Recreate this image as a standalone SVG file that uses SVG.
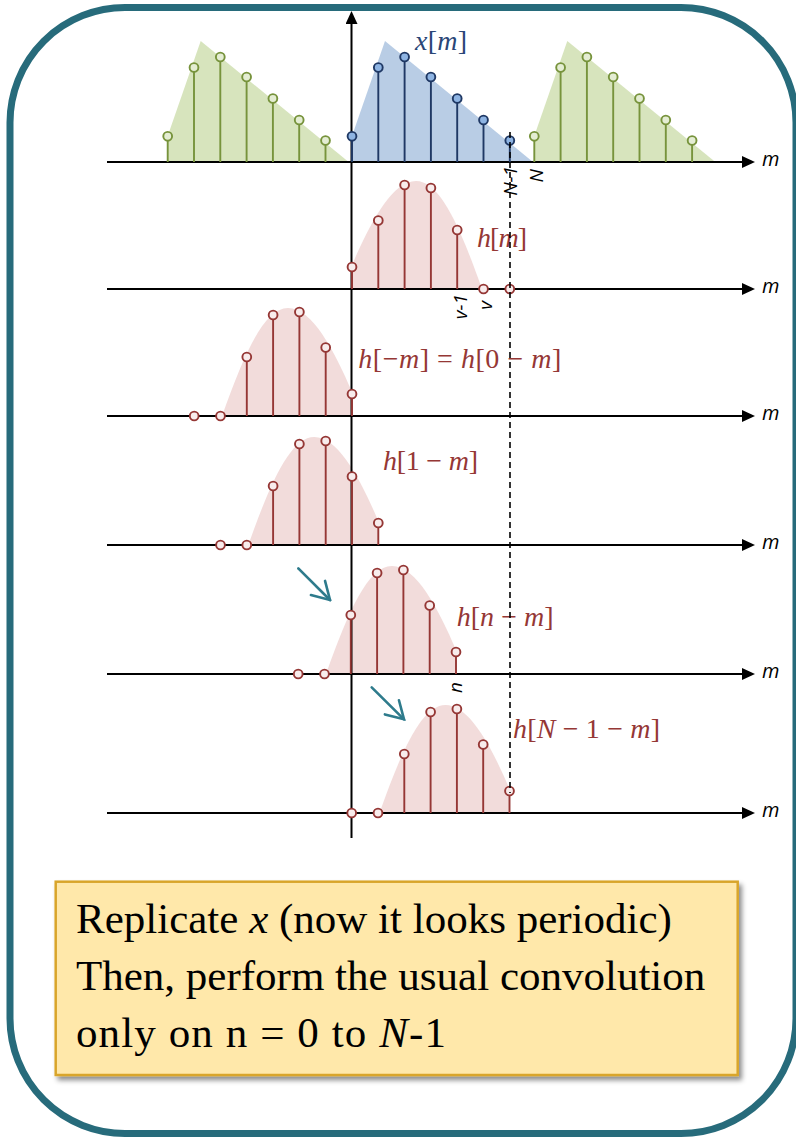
<svg xmlns="http://www.w3.org/2000/svg" width="796" height="1137" viewBox="0 0 796 1137">
<defs>
<style>
.axis{stroke:#000;stroke-width:2;fill:none}
.dash{stroke:#000;stroke-width:1.6;stroke-dasharray:6 4;fill:none}
.gfill{fill:#d7e4bd}
.bfill{fill:#b9cde5}
.rfill{fill:#f2dcdb}
.green{stroke:#77933c;fill:#e4edd3}
.blueseq{stroke:#1f3864;fill:#8eb4e3}
.redseq{stroke:#953735;fill:#f8ecec}
.lbl{font-family:"Open Sans","Liberation Sans",sans-serif;font-style:italic;font-size:19px;fill:#000}
.axl{font-family:"Open Sans","Liberation Sans",sans-serif;font-style:italic;font-size:20px;fill:#000}
.math{font-family:"Liberation Serif","DejaVu Serif",serif;font-size:28px}
.it{font-style:italic}
.red{fill:#953735}
.blue{fill:#2a4677}
.teal{stroke:#2e7b8c;stroke-width:2.6;fill:none;stroke-linecap:round}
.box{fill:#ffe8aa;stroke:#d9a52b;stroke-width:2.5}
.boxt{font-family:"Liberation Serif","Times New Roman",serif;font-size:43px;fill:#000}
</style>
<marker id="ah" viewBox="0 0 13 12" refX="1" refY="6" markerWidth="13" markerHeight="12" markerUnits="userSpaceOnUse" orient="auto"><path d="M0,0 L13,6 L0,12 Z" fill="#000"/></marker>
<marker id="ov" viewBox="-19 -12 21 24" refX="0" refY="0" markerWidth="21" markerHeight="24" markerUnits="userSpaceOnUse" orient="auto"><path d="M-17,-10 L0,0 L-17,10" fill="none" stroke="#2e7b8c" stroke-width="2.6" stroke-linecap="round"/></marker>
<filter id="sh" x="-5%" y="-5%" width="115%" height="125%"><feDropShadow dx="3" dy="4" stdDeviation="2.5" flood-color="#000" flood-opacity="0.45"/></filter>
<polygon id="tri" points="0,0 0,-26 33,-121 181,0"/>
<path id="bump" d="M0,0 V-24 C18,-66 40,-108 64,-108 C88,-108 108,-62 130,0 Z"/>
<g id="xst" stroke-width="1.9">
<line x1="0" y1="0" x2="0" y2="-25.7"/>
<line x1="26.3" y1="0" x2="26.3" y2="-94.5"/>
<line x1="52.6" y1="0" x2="52.6" y2="-105"/>
<line x1="78.9" y1="0" x2="78.9" y2="-85"/>
<line x1="105.2" y1="0" x2="105.2" y2="-63.5"/>
<line x1="131.5" y1="0" x2="131.5" y2="-42"/>
<line x1="157.8" y1="0" x2="157.8" y2="-21.5"/>
<circle cx="0" cy="-25.7" r="4.4"/>
<circle cx="26.3" cy="-94.5" r="4.4"/>
<circle cx="52.6" cy="-105" r="4.4"/>
<circle cx="78.9" cy="-85" r="4.4"/>
<circle cx="105.2" cy="-63.5" r="4.4"/>
<circle cx="131.5" cy="-42" r="4.4"/>
<circle cx="157.8" cy="-21.5" r="4.4"/>
</g>
<g id="hst" stroke-width="1.9">
<line x1="0" y1="0" x2="0" y2="-22"/>
<line x1="26.3" y1="0" x2="26.3" y2="-68.5"/>
<line x1="52.6" y1="0" x2="52.6" y2="-104"/>
<line x1="78.9" y1="0" x2="78.9" y2="-101"/>
<line x1="105.2" y1="0" x2="105.2" y2="-59"/>
<circle cx="0" cy="-22" r="4.4"/>
<circle cx="26.3" cy="-68.5" r="4.4"/>
<circle cx="52.6" cy="-104" r="4.4"/>
<circle cx="78.9" cy="-101" r="4.4"/>
<circle cx="105.2" cy="-59" r="4.4"/>
<circle cx="131.5" cy="0" r="4.4"/>
<circle cx="157.8" cy="0" r="4.4"/>
</g>
</defs>
<rect width="796" height="1137" fill="#fff"/>
<g id="frame"><rect x="10" y="7.5" width="786" height="1126" rx="115" fill="none" stroke="#276b7b" stroke-width="7"/></g>
<g id="fills">
<use href="#tri" class="gfill" transform="translate(167.7,162)"/>
<use href="#tri" class="bfill" transform="translate(352,162)"/>
<use href="#tri" class="gfill" transform="translate(534.3,162)"/>
<use href="#bump" class="rfill" transform="translate(352,289)"/>
<use href="#bump" class="rfill" transform="translate(352,416) scale(-1,1)"/>
<use href="#bump" class="rfill" transform="translate(378.3,545) scale(-1,1)"/>
<use href="#bump" class="rfill" transform="translate(456,674) scale(-1,1)"/>
<use href="#bump" class="rfill" transform="translate(509.5,813) scale(-1,1)"/>
</g>
<g id="axes">
<line class="axis" x1="107" y1="162" x2="743" y2="162" marker-end="url(#ah)"/>
<line class="axis" x1="107" y1="289" x2="743" y2="289" marker-end="url(#ah)"/>
<line class="axis" x1="107" y1="416" x2="743" y2="416" marker-end="url(#ah)"/>
<line class="axis" x1="107" y1="545" x2="743" y2="545" marker-end="url(#ah)"/>
<line class="axis" x1="107" y1="674" x2="743" y2="674" marker-end="url(#ah)"/>
<line class="axis" x1="107" y1="813" x2="743" y2="813" marker-end="url(#ah)"/>
<line class="axis" x1="351.5" y1="838" x2="351.5" y2="23" marker-end="url(#ah)"/>
<text class="axl" x="762" y="166">m</text>
<text class="axl" x="762" y="293">m</text>
<text class="axl" x="762" y="420">m</text>
<text class="axl" x="762" y="549">m</text>
<text class="axl" x="762" y="678">m</text>
<text class="axl" x="762" y="817">m</text>
</g>
<g id="seq-x">
<use href="#xst" class="green" transform="translate(167.7,162)"/>
<use href="#xst" class="blueseq" transform="translate(352,162)"/>
<use href="#xst" class="green" transform="translate(534.3,162)"/>
<text class="math blue" x="415" y="50" textLength="52"><tspan class="it">x</tspan>[<tspan class="it">m</tspan>]</text>
<text class="lbl" text-anchor="end" transform="translate(517,166) rotate(-90)">N-1</text>
<text class="lbl" text-anchor="end" transform="translate(543,169) rotate(-90)">N</text>
</g>
<g id="seq-h">
<use href="#hst" class="redseq" transform="translate(352,289)"/>
<text class="math red" x="477" y="246.5" textLength="50"><tspan class="it">h</tspan>[<tspan class="it">m</tspan>]</text>
<text class="lbl" text-anchor="end" transform="translate(467,294) rotate(-90)">v-1</text>
<text class="lbl" text-anchor="end" transform="translate(492,301) rotate(-90)">v</text>
</g>
<g id="seq-h-neg">
<use href="#hst" class="redseq" transform="translate(352,416) scale(-1,1)"/>
<text class="math red" x="358.3" y="368" textLength="203"><tspan class="it">h</tspan>[−<tspan class="it">m</tspan>] = <tspan class="it">h</tspan>[0 − <tspan class="it">m</tspan>]</text>
</g>
<g id="seq-h-1">
<use href="#hst" class="redseq" transform="translate(378.3,545) scale(-1,1)"/>
<text class="math red" x="383" y="470" textLength="95"><tspan class="it">h</tspan>[1 − <tspan class="it">m</tspan>]</text>
</g>
<g id="seq-h-n">
<use href="#hst" class="redseq" transform="translate(456,674) scale(-1,1)"/>
<text class="math red" x="456.7" y="626" textLength="97"><tspan class="it">h</tspan>[<tspan class="it">n</tspan> − <tspan class="it">m</tspan>]</text>
<text class="lbl" text-anchor="end" transform="translate(462,682) rotate(-90)">n</text>
</g>
<g id="seq-h-N1">
<use href="#hst" class="redseq" transform="translate(509.5,813) scale(-1,1)"/>
<text class="math red" x="513" y="738" textLength="147"><tspan class="it">h</tspan>[<tspan class="it">N</tspan> − 1 − <tspan class="it">m</tspan>]</text>
</g>
<g id="connectors">
<line class="dash" x1="510" y1="132" x2="510" y2="793"/>
<line class="teal" x1="298.3" y1="568.3" x2="330" y2="600" marker-end="url(#ov)"/>
<line class="teal" x1="371.7" y1="687.3" x2="404" y2="719.3" marker-end="url(#ov)"/>
</g>
<g id="note">
<rect class="box" x="55.7" y="881.7" width="682" height="193.3" filter="url(#sh)"/>
<text class="boxt" x="76" y="933">Replicate <tspan class="it">x</tspan> (now it looks periodic)</text>
<text class="boxt" x="76" y="990">Then, perform the usual convolution</text>
<text class="boxt" x="76" y="1047" textLength="370">only on n = 0 to <tspan class="it">N</tspan>-1</text>
</g>
</svg>
